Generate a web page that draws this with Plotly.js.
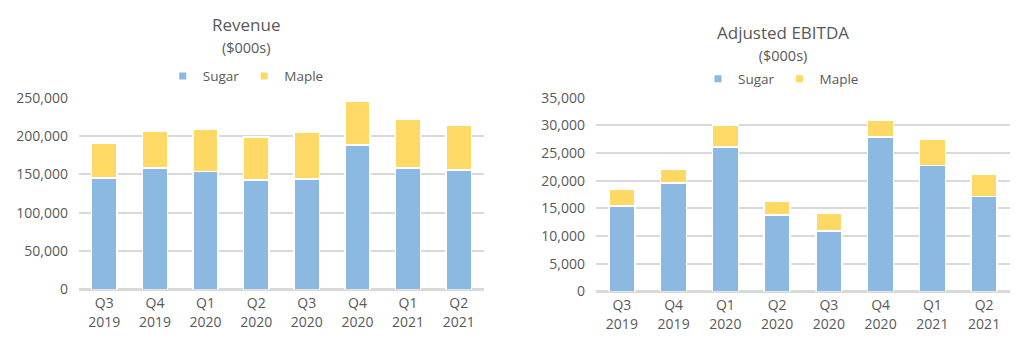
<!DOCTYPE html>
<html>
<head>
<meta charset="utf-8">
<script src="https://cdn.plot.ly/plotly-3.0.1.min.js"></script>
<style>html,body{margin:0;padding:0;background:#fff}#chart{width:1029px;height:351px}</style>
</head>
<body>
<div id="chart"></div>
<script>
const quarters = ["Q3", "Q4", "Q1", "Q2", "Q3", "Q4", "Q1", "Q2"];
const years = ["2019", "2019", "2020", "2020", "2020", "2020", "2021", "2021"];
const revenueSugar = [145000, 158000, 154000, 142500, 144000, 188000, 158000, 155500];
const revenueMaple = [45000, 48000, 55000, 56000, 61000, 57000, 64000, 59000];
const ebitdaSugar = [15400, 19600, 26100, 13800, 10900, 27900, 22700, 17100];
const ebitdaMaple = [3100, 2400, 4000, 2550, 3300, 3100, 4700, 4150];
const revenueTicks = [0, 50000, 100000, 150000, 200000, 250000];
const ebitdaTicks = [0, 5000, 10000, 15000, 20000, 25000, 30000, 35000];

const cats = quarters.map((q, i) => q + "<br>" + years[i]);
const blue = "#8CB9E1", yellow = "#FFD966";
const txt = "#595959", grid = "#D9D9D9";
const font = "'Open Sans', Lato, sans-serif";

const line = {color: "#ffffff", width: 1.5};
function bars(sugar, maple, xa, ya, lg) {
  return [
    {type: "bar", x: cats, y: sugar, name: "Sugar", marker: {color: blue, line: line}, xaxis: xa, yaxis: ya, showlegend: false},
    {type: "bar", x: cats, y: maple, name: "Maple", marker: {color: yellow, line: line}, xaxis: xa, yaxis: ya, showlegend: false},
    {type: "scatter", mode: "markers", x: [null], y: [null], name: "Sugar", marker: {color: blue, symbol: "square", size: 7}, xaxis: xa, yaxis: ya, legend: lg},
    {type: "scatter", mode: "markers", x: [null], y: [null], name: "Maple", marker: {color: yellow, symbol: "square", size: 7}, xaxis: xa, yaxis: ya, legend: lg}
  ];
}
const traces = bars(revenueSugar, revenueMaple, "x", "y", "legend").concat(bars(ebitdaSugar, ebitdaMaple, "x2", "y2", "legend2"));

const fmt = v => v.toLocaleString("en-US");
const xax = (dom, anchor) => ({
  domain: dom, anchor: anchor, type: "category", categoryarray: cats, categoryorder: "array",
  showgrid: false, zeroline: false, ticklabelstandoff: 4,
  showline: false, ticks: "", tickfont: {size: 14, color: txt, family: font}, fixedrange: true
});
const yax = (dom, anchor, range, ticks) => ({
  domain: dom, anchor: anchor, range: range, tickvals: ticks, ticktext: ticks.map(fmt),
  showgrid: true, gridcolor: grid, gridwidth: 2, zeroline: true, zerolinecolor: grid, zerolinewidth: 2.5,
  showline: false, ticks: "", ticklabelstandoff: 10, tickfont: {size: 14, color: txt, family: font}, fixedrange: true
});

const layout = {
  width: 1029, height: 351,
  margin: {l: 0, r: 0, t: 0, b: 0},
  paper_bgcolor: "#ffffff", plot_bgcolor: "#ffffff",
  barmode: "stack", bargap: 0.5,
  font: {family: font, color: txt},
  xaxis: xax([79/1029, 484/1029], "y"),
  yaxis: yax([(351-289.3)/351, (351-97.7)/351], "x", [0, 250000], revenueTicks),
  xaxis2: xax([596/1029, 1010/1029], "y2"),
  yaxis2: yax([(351-291.3)/351, (351-97.7)/351], "x2", [0, 35000], ebitdaTicks),
  legend: {orientation: "h", x: 0.2388, xanchor: "center", y: 0.783, yanchor: "middle",
    font: {size: 13.5, color: txt, family: font}, itemwidth: 30, traceorder: "normal", bgcolor: "rgba(0,0,0,0)"},
  legend2: {orientation: "h", x: 0.759, xanchor: "center", y: 0.775, yanchor: "middle",
    font: {size: 13.5, color: txt, family: font}, itemwidth: 30, traceorder: "normal", bgcolor: "rgba(0,0,0,0)"},
  annotations: [
    {text: "Revenue<br><span style='font-size:14.5px'>($000s)</span>", xref: "paper", yref: "paper", x: 0.2388, y: 0.899,
      xanchor: "center", yanchor: "middle", showarrow: false, font: {size: 17, color: txt, family: font}},
    {text: "Adjusted EBITDA<br><span style='font-size:14.5px'>($000s)</span>", xref: "paper", yref: "paper", x: 0.7606, y: 0.8775,
      xanchor: "center", yanchor: "middle", showarrow: false, font: {size: 17, color: txt, family: font}}
  ]
};

Plotly.newPlot("chart", traces, layout, {staticPlot: true, displayModeBar: false});
</script>
</body>
</html>
